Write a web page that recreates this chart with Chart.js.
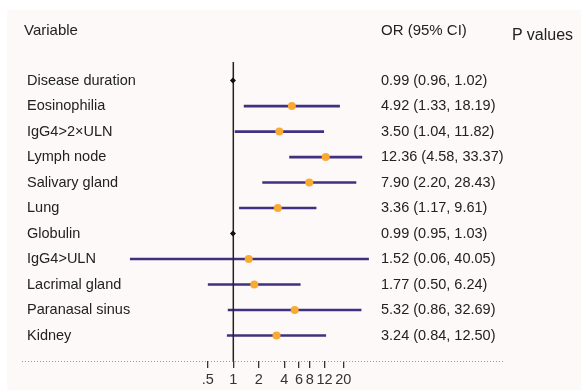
<!DOCTYPE html>
<html>
<head>
<meta charset="utf-8">
<title>Forest plot</title>
<script src="https://cdn.jsdelivr.net/npm/chart.js@4.4.1/dist/chart.umd.min.js"></script>
<style>
  body { margin: 0; background: #fff; font-family: 'Liberation Sans', Arial, sans-serif; }
  #wrap { position: relative; width: 581px; height: 390px; overflow: hidden; }
  #bg { position: absolute; left: 7px; top: 10px; right: 0; bottom: 0; background: #fdf9f8; }
  canvas { position: absolute; left: 0; top: 0; }
  .hd { position: absolute; color: #222; font-size: 15px; line-height: 17px; white-space: nowrap; }
</style>
</head>
<body>
<div id="wrap">
  <div id="bg"></div>
  <canvas id="forest" width="581" height="390"></canvas>
  <div class="hd" style="left:24px; top:21px;">Variable</div>
  <div class="hd" style="left:381px; top:21px;">OR (95% CI)</div>
  <div class="hd" style="left:512px; top:26px; font-size:16px; line-height:18px;">P values</div>
</div>
<script>
// data
var variables = ['Disease duration', 'Eosinophilia', 'IgG4>2×ULN', 'Lymph node', 'Salivary gland',
  'Lung', 'Globulin', 'IgG4>ULN', 'Lacrimal gland', 'Paranasal sinus', 'Kidney'];
var orValues = [0.99, 4.92, 3.50, 12.36, 7.90, 3.36, 0.99, 1.52, 1.77, 5.32, 3.24];
var ciLower  = [0.96, 1.33, 1.04, 4.58, 2.20, 1.17, 0.95, 0.06, 0.50, 0.86, 0.84];
var ciUpper  = [1.02, 18.19, 11.82, 33.37, 28.43, 9.61, 1.03, 40.05, 6.24, 32.69, 12.50];
var xTicks   = [0.5, 1, 2, 4, 6, 8, 12, 20];

// rows drawn as small black markers (continuous variables)
var blackRows = ['Disease duration', 'Globulin'];

var purple = '#41307f';
var orange = '#f9aa33';
var yMin = -0.73, yMax = 11.0;

function fmt(v) { return v.toFixed(2); }

var orLabels = [];
for (var i = 0; i < variables.length; i++) {
  orLabels.push(fmt(orValues[i]) + ' (' + fmt(ciLower[i]) + ', ' + fmt(ciUpper[i]) + ')');
}

var datasets = [];

// point estimates
var pts = [], ptColor = [], ptRadius = [], ptStyle = [];
for (var i = 0; i < variables.length; i++) {
  var isBlack = blackRows.indexOf(variables[i]) >= 0;
  pts.push({ x: orValues[i], y: i });
  ptColor.push(isBlack ? '#111' : orange);
  ptRadius.push(isBlack ? 3 : 4);
  ptStyle.push(isBlack ? 'rectRot' : 'circle');
}
datasets.push({
  type: 'scatter', data: pts, order: 0,
  pointBackgroundColor: ptColor, pointBorderWidth: 0,
  pointRadius: ptRadius, pointStyle: ptStyle, showLine: false
});

// reference line at OR = 1
datasets.push({
  type: 'line', data: [{ x: 1, y: yMin }, { x: 1, y: yMax }], order: 1,
  borderColor: '#222', borderWidth: 1.5, pointRadius: 0
});

// confidence intervals (may run past the plot area on the left)
for (var i = 0; i < variables.length; i++) {
  var isBlack = blackRows.indexOf(variables[i]) >= 0;
  datasets.push({
    type: 'line', data: [{ x: ciLower[i], y: i }, { x: ciUpper[i], y: i }], order: 2,
    borderColor: isBlack ? '#111' : purple, borderWidth: 2.6, pointRadius: 0, clip: false
  });
}

// dotted rule under the rows
var dottedRule = {
  id: 'dottedRule',
  beforeDatasetsDraw: function(chart) {
    var ctx = chart.ctx;
    var y = Math.round(chart.chartArea.bottom) + 0.5;
    ctx.save();
    ctx.strokeStyle = '#9a9a9a';
    ctx.lineWidth = 1;
    ctx.setLineDash([1, 2]);
    ctx.beginPath();
    ctx.moveTo(22, y);
    ctx.lineTo(503, y);
    ctx.stroke();
    ctx.restore();
  }
};

var font = { family: "'Liberation Sans', Arial, sans-serif", size: 14.5 };

new Chart(document.getElementById('forest'), {
  data: { datasets: datasets },
  plugins: [dottedRule],
  options: {
    responsive: false,
    animation: false,
    devicePixelRatio: 1,
    layout: { padding: { top: 62, left: 27, right: 0, bottom: 0 } },
    plugins: { legend: { display: false }, tooltip: { enabled: false } },
    scales: {
      x: {
        type: 'logarithmic', min: 0.0789, max: 47.3,
        grid: { drawOnChartArea: false, drawTicks: true, tickLength: 7, color: '#333', lineWidth: 1.3 },
        border: { display: false },
        afterBuildTicks: function(axis) { axis.ticks = xTicks.map(function(v) { return { value: v }; }); },
        afterFit: function(axis) { axis.height = 29; },
        ticks: {
          autoSkip: false, maxRotation: 0, padding: 3, color: '#333', font: font,
          callback: function(value) { return value === 0.5 ? '.5' : String(value); }
        }
      },
      y: {
        type: 'linear', position: 'left', reverse: true, min: yMin, max: yMax,
        grid: { display: false }, border: { display: false },
        afterBuildTicks: function(axis) { axis.ticks = variables.map(function(v, i) { return { value: i }; }); },
        afterFit: function(axis) { axis.width = 113; },
        ticks: {
          crossAlign: 'far', padding: 0, color: '#222', font: font,
          callback: function(value, index) { return variables[index]; }
        }
      },
      y2: {
        type: 'linear', position: 'right', reverse: true, min: yMin, max: yMax,
        grid: { display: false, drawTicks: false }, border: { display: false },
        afterBuildTicks: function(axis) { axis.ticks = orLabels.map(function(v, i) { return { value: i }; }); },
        afterFit: function(axis) { axis.width = 206; },
        ticks: {
          crossAlign: 'near', padding: 6, color: '#222', font: font,
          callback: function(value, index) { return orLabels[index]; }
        }
      }
    }
  }
});
</script>
</body>
</html>
